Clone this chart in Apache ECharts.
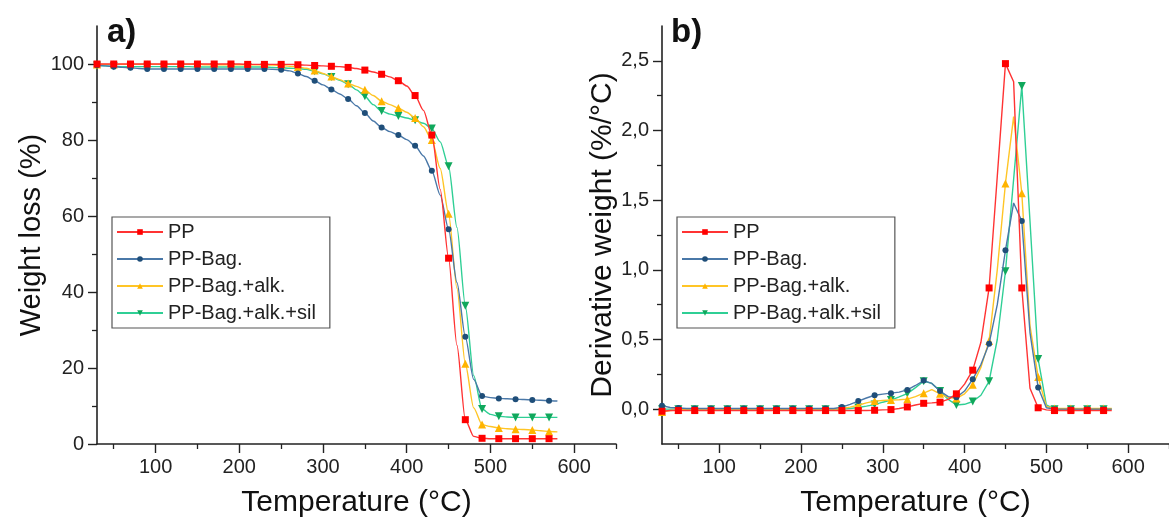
<!DOCTYPE html>
<html>
<head>
<meta charset="utf-8">
<script src="https://cdn.jsdelivr.net/npm/echarts@6/dist/echarts.min.js"></script>
<style>
html,body{margin:0;padding:0;background:#fff;}
#c{width:1169px;height:523px;}
</style>
</head>
<body>
<div id="c"></div>
<script>
// ---------- data ----------
const seriesNames = ['PP', 'PP-Bag.', 'PP-Bag.+alk.', 'PP-Bag.+alk.+sil'];
const temps = [30,40,50,60,70,80,90,100,110,120,130,140,150,160,170,180,190,200,210,220,230,240,250,260,270,280,290,300,310,320,330,340,350,360,370,380,390,400,410,420,430,440,450,460,470,480,490,500,510,520,530,540,550,560,570,580];
const xTickLabels = [100,200,300,400,500,600];
const yTickLabelsA = [0,20,40,60,80,100];
const yTickLabelsB = [0,0.5,1.0,1.5,2.0,2.5];

// a) weight loss (%)
const tgaPP = [100.0,100.0,100.0,100.0,100.0,100.0,100.0,100.0,100.0,100.0,100.0,100.0,100.0,100.0,100.0,100.0,100.0,100.0,99.9,99.9,99.9,99.9,99.9,99.9,99.8,
  99.7,99.6,99.5,99.4,99.3,99.1,98.8,98.4,97.9,97.3,96.6,95.6,94.2,91.7,87.8,81.3,67.0,48.9,26.0,6.4,2.0,1.5,1.4,
  1.4,1.4,1.4,1.4,1.4,1.4,1.4,1.4];
const tgaBag = [99.7,99.5,99.3,99.1,99.0,98.8,98.7,
  98.7,98.7,98.7,98.7,98.7,98.7,98.7,98.7,98.7,98.7,98.7,98.7,98.7,98.7,
  98.6,98.5,98.2,97.5,96.7,95.6,94.5,93.3,92.1,90.8,89.0,87.1,85.0,83.3,82.2,81.3,80.1,78.5,75.8,71.9,65.5,56.5,42.5,28.2,17.0,12.6,12.2,
  12.0,11.9,11.8,11.7,11.6,11.5,11.4,11.3];
const tgaAlk = [99.9,99.9,99.9,99.9,99.9,99.9,99.9,99.9,99.9,99.9,99.9,99.9,99.9,99.8,99.8,99.8,99.8,99.8,99.8,99.8,99.8,
  99.7,99.6,99.4,99.2,98.9,98.3,97.5,96.7,95.9,94.9,94.1,93.2,91.7,90.2,89.3,88.4,87.3,85.8,83.5,80.0,72.5,60.6,41.0,21.1,9.5,5.1,4.6,
  4.2,4.0,3.9,3.8,3.7,3.5,3.3,3.2];
const tgaSil = [99.6,99.5,99.4,
  99.3,99.3,99.3,99.3,99.3,99.3,99.3,99.3,99.3,99.2,99.2,99.2,99.2,99.2,99.2,99.2,99.2,99.2,
  99.1,99.0,98.9,98.8,98.6,98.1,97.4,96.6,95.7,94.7,93.2,91.5,89.3,87.6,86.8,86.3,85.8,85.2,84.4,83.0,79.5,73.1,57.0,36.4,18.0,9.2,7.8,
  7.3,7.1,7.0,7.0,7.0,7.0,7.0,7.0];

// b) derivative weight (%/°C)
const dtgPP = [-0.015,
  -0.01,-0.01,-0.01,-0.01,-0.01,-0.01,-0.01,-0.01,-0.01,-0.01,-0.01,-0.01,-0.01,-0.01,-0.01,-0.01,-0.01,-0.01,-0.01,-0.01,-0.01,-0.01,-0.01,-0.01,
  -0.01,-0.008,-0.005,-0.003,0.005,0.016,0.03,0.042,0.045,0.05,0.07,0.11,0.18,0.28,0.48,0.87,1.67,2.48,2.35,0.87,0.15,0.01,-0.005,
  -0.01,-0.01,-0.01,-0.01,-0.01,-0.01,-0.01,-0.01];
const dtgBag = [0.025,0.012,0.008,
  0.005,0.005,0.005,0.005,0.005,0.005,0.005,0.005,0.005,0.005,0.005,0.005,0.005,0.005,0.005,0.005,0.005,0.005,0.005,
  0.015,0.035,0.058,0.08,0.1,0.108,0.115,0.122,0.138,0.17,0.205,0.185,0.13,0.09,0.085,0.13,0.215,0.32,0.47,0.75,1.14,1.48,1.35,0.55,0.155,0.01,
  0,0,0,0,0,0,0,0];
const dtgAlk = [-0.02,-0.01,-0.005,
  0,0,0,0,0,0,0,0,0,0,0,0,0,0,0,0,0,0,0,
  0.005,0.015,0.028,0.045,0.058,0.062,0.066,0.068,0.072,0.09,0.115,0.14,0.11,0.085,0.077,0.11,0.175,0.3,0.49,1.0,1.62,2.1,1.55,0.6,0.23,0.02,
  0.005,0.005,0.005,0.005,0.005,0.005,0.005,0.005];
const dtgSil = [0,0,0,0,0,0,0,0,0,0,0,0,0,0,0,0,0,0,0,0,0,0,0,
  0.005,0.012,0.022,0.033,0.05,0.065,0.088,0.112,0.155,0.2,0.185,0.13,0.07,0.03,0.035,0.055,0.1,0.2,0.5,0.99,1.65,2.32,1.35,0.36,0.03,
  0,0,0,0,0,0,0,0];

// ---------- styling ----------
const FONT = 'Liberation Sans, Arial, sans-serif';
const AX = '#222';
const styles = [
  {line:'#ff3333', mark:'#ff0000', symbol:'rect', size:7, rotate:0},
  {line:'#4a78a8', mark:'#1f4e79', symbol:'circle', size:6, rotate:0},
  {line:'#ffc526', mark:'#ffb400', symbol:'triangle', size:8, rotate:0},
  {line:'#2fcf95', mark:'#10a85c', symbol:'triangle', size:8, rotate:180}
];

const pairs = v => temps.map((t, i) => [t, v[i]]);
const tgaSets = [tgaPP, tgaBag, tgaAlk, tgaSil];
const dtgSets = [dtgPP, dtgBag, dtgAlk, dtgSil];

function mkSeries(vals, idx, axisIdx, smooth) {
  const s = styles[idx];
  return {
    name: seriesNames[idx], type: 'line',
    xAxisIndex: axisIdx, yAxisIndex: axisIdx,
    data: pairs(vals),
    smooth: smooth, smoothMonotone: 'x',
    showAllSymbol: true,
    symbol: s.symbol, symbolRotate: s.rotate,
    symbolSize: (v, p) => (p && p.dataIndex % 2 !== 0) ? 0 : s.size,
    lineStyle: {color: s.line, width: 1.4},
    itemStyle: {color: s.mark},
    emphasis: {disabled: true},
    animation: false, z: 3 + (3 - idx)
  };
}

const gridW = 519, gridH = 418;
const grids = [
  {left: 97, top: 26, width: gridW, height: gridH},
  {left: 662, top: 26, width: gridW, height: gridH}
];

function mainX(g) {
  return {
    type: 'value', gridIndex: g, position: 'bottom', min: 30, max: 650, interval: 10,
    name: 'Temperature (°C)', nameLocation: 'middle', nameGap: 44,
    nameTextStyle: {fontFamily: FONT, fontSize: 30, color: '#111'},
    axisLine: {show: true, onZero: false, lineStyle: {color: AX, width: 1.6}},
    axisTick: {show: true, length: 9, lineStyle: {color: AX, width: 1.4}, customValues: xTickLabels},
    axisLabel: {customValues: xTickLabels, fontFamily: FONT, fontSize: 20, color: '#222', margin: 13},
    splitLine: {show: false}
  };
}
function minorX(g) {
  return {
    type: 'value', gridIndex: g, position: 'bottom', min: 30, max: 650, interval: 10,
    axisLine: {show: false, onZero: false},
    axisTick: {show: true, length: 5, lineStyle: {color: AX, width: 1.3}, customValues: [50,150,250,350,450,550,650]},
    axisLabel: {show: false}, splitLine: {show: false}
  };
}

function legendAt(left) {
  return {left: left, top: 217, orient: 'vertical', data: seriesNames, selectedMode: false,
    itemWidth: 46, itemHeight: 7, itemGap: 7, padding: [5, 14, 5, 4],
    borderColor: '#555', borderWidth: 1.2, backgroundColor: '#fff',
    textStyle: {fontFamily: FONT, fontSize: 20, color: '#222'}};
}

const option = {
  backgroundColor: '#ffffff',
  animation: false,
  textStyle: {fontFamily: FONT},
  title: [
    {text: 'a)', left: 107, top: 16, padding: 0, textStyle: {fontFamily: FONT, fontSize: 33, fontWeight: 'bold', color: '#111'}},
    {text: 'b)', left: 671, top: 16, padding: 0, textStyle: {fontFamily: FONT, fontSize: 33, fontWeight: 'bold', color: '#111'}}
  ],
  legend: [legendAt(112), legendAt(677)],
  grid: grids,
  xAxis: [mainX(0), minorX(0), mainX(1), minorX(1)],
  yAxis: [
    {type: 'value', gridIndex: 0, position: 'left', min: 0, max: 110, interval: 10,
     name: 'Weight loss (%)', nameLocation: 'middle', nameGap: 47,
     nameTextStyle: {fontFamily: FONT, fontSize: 29, color: '#111'},
     axisLine: {show: true, lineStyle: {color: AX, width: 1.6}},
     axisTick: {show: true, length: 9, lineStyle: {color: AX, width: 1.4}, customValues: yTickLabelsA},
     axisLabel: {customValues: yTickLabelsA, fontFamily: FONT, fontSize: 20, color: '#222', margin: 13},
     splitLine: {show: false}},
    {type: 'value', gridIndex: 0, position: 'left', min: 0, max: 110, interval: 10,
     axisLine: {show: false},
     axisTick: {show: true, length: 5, lineStyle: {color: AX, width: 1.3}, customValues: [10,30,50,70,90]},
     axisLabel: {show: false}, splitLine: {show: false}},
    {type: 'value', gridIndex: 1, position: 'left', min: -0.25, max: 2.75, interval: 0.25,
     name: 'Derivative weight (%/°C)', nameLocation: 'middle', nameGap: 44,
     nameTextStyle: {fontFamily: FONT, fontSize: 30, color: '#111'},
     axisLine: {show: true, onZero: false, lineStyle: {color: AX, width: 1.6}},
     axisTick: {show: true, length: 9, lineStyle: {color: AX, width: 1.4}, customValues: yTickLabelsB},
     axisLabel: {customValues: yTickLabelsB, fontFamily: FONT, fontSize: 20, color: '#222', margin: 13,
                 formatter: v => Number(v).toFixed(1).replace('.', ',')},
     splitLine: {show: false}},
    {type: 'value', gridIndex: 1, position: 'left', min: -0.25, max: 2.75, interval: 0.25,
     axisLine: {show: false},
     axisTick: {show: true, length: 5, lineStyle: {color: AX, width: 1.3}, customValues: [0.25,0.75,1.25,1.75,2.25]},
     axisLabel: {show: false}, splitLine: {show: false}}
  ],
  series: [
    ...tgaSets.map((v, i) => mkSeries(v, i, 0, 0.25)),
    ...dtgSets.map((v, i) => mkSeries(v, i, 2, false))
  ]
};

const chart = echarts.init(document.getElementById('c'), null, {renderer: 'canvas'});
chart.setOption(option);
</script>
</body>
</html>
